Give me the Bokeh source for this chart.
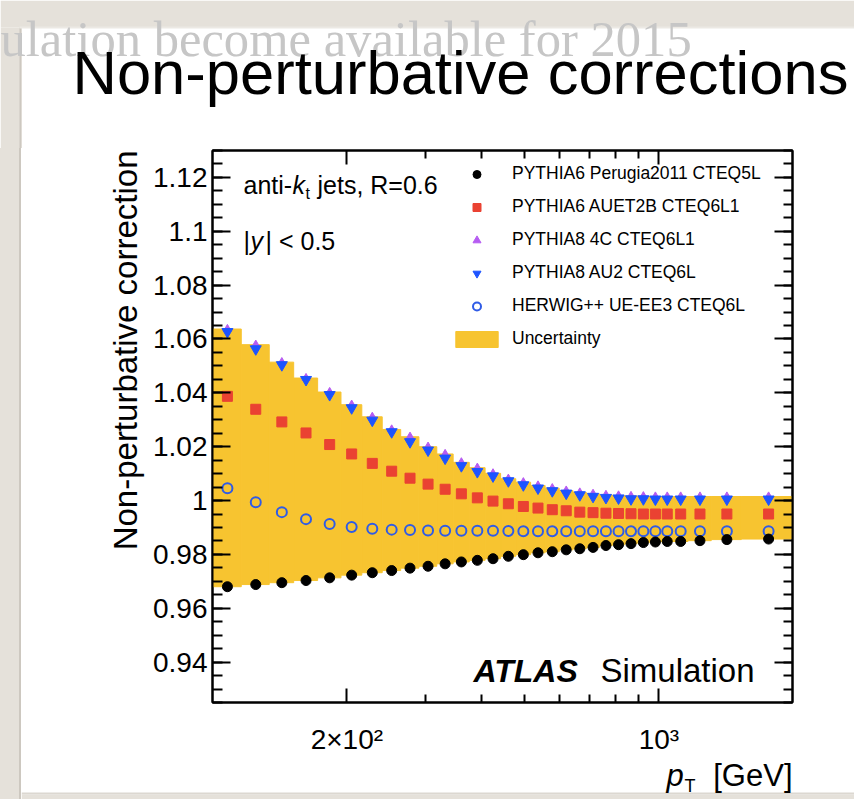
import numpy as np
from bokeh.plotting import figure
from bokeh.layouts import column, row
from bokeh.models import (Range1d, FixedTicker, LogAxis, LinearAxis, Label, Legend,
                          LegendItem, BoxAnnotation, Spacer)
from bokeh.embed import file_html
from bokeh.resources import INLINE

# Jet pT bin edges [GeV]
pt_edges = [100, 116, 134, 152, 172, 194, 216, 240, 264, 290, 318, 346, 376, 408, 442,
            478, 516, 556, 598, 642, 688, 736, 786, 838, 894, 952, 1012, 1076, 1162,
            1310, 1530, 1992]

# Non-perturbative correction per bin, one list per generator/tune
pythia6_perugia2011 = [0.9680, 0.9688, 0.9695, 0.9703, 0.9713, 0.9723, 0.9732, 0.9740,
                       0.9749, 0.9756, 0.9765, 0.9772, 0.9778, 0.9784, 0.9793, 0.9799,
                       0.9806, 0.9810, 0.9817, 0.9821, 0.9826, 0.9833, 0.9836, 0.9840,
                       0.9844, 0.9846, 0.9848, 0.9848, 0.9851, 0.9855, 0.9857]
pythia6_auet2b = [1.0387, 1.0339, 1.0292, 1.0251, 1.0208, 1.0173, 1.0138, 1.0109,
                  1.0083, 1.0061, 1.0042, 1.0025, 1.0010, 0.9998, 0.9988, 0.9978,
                  0.9972, 0.9966, 0.9962, 0.9957, 0.9955, 0.9953, 0.9952, 0.9951,
                  0.9950, 0.9950, 0.9950, 0.9950, 0.9950, 0.9950, 0.9950]
pythia8_4c = [1.0637, 1.0579, 1.0514, 1.0455, 1.0403, 1.0356, 1.0311, 1.0264,
              1.0237, 1.0200, 1.0173, 1.0142, 1.0122, 1.0101, 1.0081, 1.0068,
              1.0056, 1.0046, 1.0037, 1.0030, 1.0025, 1.0021, 1.0019, 1.0017,
              1.0016, 1.0015, 1.0015, 1.0015, 1.0015, 1.0015, 1.0015]
pythia8_au2 = [1.0627, 1.0563, 1.0504, 1.0449, 1.0393, 1.0344, 1.0298, 1.0255,
               1.0218, 1.0187, 1.0157, 1.0129, 1.0107, 1.0091, 1.0073, 1.0058,
               1.0046, 1.0036, 1.0027, 1.0021, 1.0015, 1.0011, 1.0009, 1.0006,
               1.0006, 1.0005, 1.0005, 1.0005, 1.0005, 1.0005, 1.0005]
herwigpp_ueee3 = [1.0046, 0.9994, 0.9957, 0.9931, 0.9913, 0.9902, 0.9895, 0.9892,
                  0.9891, 0.9889, 0.9888, 0.9888, 0.9888, 0.9888, 0.9887, 0.9886,
                  0.9886, 0.9886, 0.9886, 0.9886, 0.9886, 0.9886, 0.9886, 0.9886,
                  0.9886, 0.9886, 0.9886, 0.9886, 0.9886, 0.9886, 0.9886]

# Uncertainty envelope per bin
band_low = pythia6_perugia2011
band_high = pythia8_4c

series_labels = ["PYTHIA6 Perugia2011 CTEQ5L", "PYTHIA6 AUET2B CTEQ6L1",
                 "PYTHIA8 4C CTEQ6L1", "PYTHIA8 AU2 CTEQ6L", "HERWIG++ UE-EE3 CTEQ6L",
                 "Uncertainty"]

y_tick_values = [0.94, 0.96, 0.98, 1.0, 1.02, 1.04, 1.06, 1.08, 1.1, 1.12]
y_tick_labels = ["0.94", "0.96", "0.98", "1", "1.02", "1.04", "1.06", "1.08", "1.1", "1.12"]
x_tick_values = [200, 1000]
x_tick_labels = ["2\u00d710\u00b2", "10\u00b3"]
x_minor_values = [300, 400, 500, 600, 700, 800, 900]

edges = np.array(pt_edges, dtype=float)
centers = 0.5 * (edges[:-1] + edges[1:])
y_minor_values = [round(v, 3) for v in np.arange(0.925, 1.1301, 0.005)]

FONT = "Liberation Sans"
BAND = "#f7c430"
BEIGE = "#e5e1da"
EDGE = "#cdc8c0"
BASE = 0.33   # Label anchors sit this fraction of the font size above the baseline


def blank_panel(width, height):
    """A bare figure whose frame fills the whole canvas (used for page margins)."""
    f = figure(width=width, height=height, x_range=Range1d(0, 1), y_range=Range1d(0, 1),
               x_axis_location=None, y_axis_location=None, title=None,
               output_backend="svg", toolbar_location=None, min_border=0)
    f.min_border_left = f.min_border_right = f.min_border_top = f.min_border_bottom = 0
    f.outline_line_color = None
    f.border_fill_color = "white"
    f.background_fill_color = "white"
    f.grid.visible = False
    return f


def box(fig, left, right, bottom, top, color):
    fig.add_layout(BoxAnnotation(left=left, right=right, bottom=bottom, top=top,
                                 left_units="screen", right_units="screen",
                                 top_units="screen", bottom_units="screen",
                                 fill_color=color, fill_alpha=1.0, line_color=None,
                                 level="underlay"))


def label(fig, x, y, text, size, style="normal", color="black", font=FONT, **kw):
    """Text whose baseline lies y pixels above the frame bottom."""
    fig.add_layout(Label(x=x, y=y + BASE * size, x_units="screen", y_units="screen",
                         text=text, text_font=font, text_font_size=f"{size}px",
                         text_font_style=style, text_color=color,
                         text_baseline="alphabetic", **kw))


# ---- page header: slide edge and headings -------------------------------------
header = blank_panel(854, 148)
box(header, 0, 854, 121, 148, BEIGE)
box(header, 0, 21, 0, 121, BEIGE)
box(header, 19, 21, 0, 121, EDGE)
box(header, 19, 854, 120, 122, "#ece9e4")
label(header, 0, 93, "ulation become available for 2015", 50.6, color="#c6c6c6",
      font="Liberation Serif")
label(header, 72, 56, "Non-perturbative corrections", 61.5)

# ---- slide edge running down the left side ------------------------------------
strip = Spacer(width=21, height=651,
               styles={"background": f"linear-gradient(to right, {BEIGE} 19px, {EDGE} 19px)"})

# ---- left margin with the y-axis title ----------------------------------------
left = blank_panel(126, 609)
left.add_layout(Label(x=104, y=552, x_units="screen", y_units="screen",
                      text="Non-perturbative correction", text_font=FONT,
                      text_font_size="33px", text_color="black", angle=np.pi / 2,
                      text_align="right", text_baseline="alphabetic"))

# ---- main plot ----------------------------------------------------------------
p = figure(width=707, height=609, x_axis_type="log",
           x_range=Range1d(100, 1992), y_range=Range1d(0.925, 1.13),
           output_backend="svg", toolbar_location=None, title=None,
           min_border_left=65, min_border_right=62,
           min_border_top=2, min_border_bottom=53)
p.border_fill_color = "white"
p.background_fill_color = "white"
p.outline_line_color = "black"
p.outline_line_width = 2
p.grid.visible = False

x_ticker = FixedTicker(ticks=x_tick_values, minor_ticks=x_minor_values)
y_ticker = FixedTicker(ticks=y_tick_values, minor_ticks=y_minor_values)


def style_axis(ax, major_in, minor_in):
    ax.axis_line_color = "black"
    ax.axis_line_width = 2
    ax.major_tick_line_width = 2
    ax.minor_tick_line_width = 2
    ax.major_tick_out = 0
    ax.minor_tick_out = 0
    ax.major_tick_in = major_in
    ax.minor_tick_in = minor_in
    ax.major_label_text_font = FONT
    ax.major_label_text_color = "black"
    ax.major_label_text_font_size = "28px"


xb = p.xaxis[0]
xb.ticker = x_ticker
style_axis(xb, 14, 8)
xb.major_label_overrides = dict(zip(x_tick_values, x_tick_labels))
xb.major_label_standoff = 21

yl = p.yaxis[0]
yl.ticker = y_ticker
style_axis(yl, 18, 10)
yl.major_label_overrides = dict(zip(y_tick_values, y_tick_labels))
yl.major_label_standoff = 5

# mirrored tick marks on the top and right edges of the frame
xt = LogAxis(ticker=x_ticker)
style_axis(xt, 14, 8)
xt.major_label_overrides = {v: "" for v in x_tick_values}
xt.major_label_standoff = 0
p.add_layout(xt, "above")

yr = LinearAxis(ticker=y_ticker)
style_axis(yr, 18, 9)
yr.major_label_overrides = {v: "" for v in y_tick_values}
yr.major_label_standoff = 0
p.add_layout(yr, "right")

# uncertainty band and generator points
r_band = p.quad(left=edges[:-1], right=edges[1:], bottom=band_low, top=band_high,
                fill_color=BAND, line_color=BAND, line_width=1)
r_hw = p.scatter(centers, herwigpp_ueee3, marker="circle", size=10, fill_color=None,
                 line_color="#2f5be6", line_width=2)
r_per = p.scatter(centers, pythia6_perugia2011, marker="circle", size=10,
                  fill_color="black", line_color="black")
r_auet = p.scatter(centers, pythia6_auet2b, marker="square", size=10,
                   fill_color="#ea4232", line_color="#ea4232")
r_4c = p.scatter(centers, pythia8_4c, marker="triangle", size=8,
                 fill_color="#b65cf2", line_color="#b65cf2")
r_au2 = p.scatter(centers, pythia8_au2, marker="inverted_triangle", size=11,
                  fill_color="#1d54ff", line_color="#1d54ff")

legend = Legend(items=[LegendItem(label=series_labels[0], renderers=[r_per]),
                       LegendItem(label=series_labels[1], renderers=[r_auet]),
                       LegendItem(label=series_labels[2], renderers=[r_4c]),
                       LegendItem(label=series_labels[3], renderers=[r_au2]),
                       LegendItem(label=series_labels[4], renderers=[r_hw]),
                       LegendItem(label=series_labels[5], renderers=[r_band])],
                location=(238, 353), glyph_width=53, glyph_height=20,
                label_height=20, label_standoff=9, spacing=12, padding=0, margin=0,
                label_text_font=FONT, label_text_font_size="17.5px",
                label_text_color="black", border_line_color=None,
                background_fill_alpha=0)
p.add_layout(legend)

# in-frame annotations
label(p, 31, 509, "anti-", 25)
label(p, 80, 509, "k", 25, style="italic")
label(p, 93, 504, "t", 16)
label(p, 105, 509, "jets, R=0.6", 25)
label(p, 31, 453, "|", 25)
label(p, 38, 453, "y", 25, style="italic")
label(p, 53, 453, "| < 0.5", 25)
label(p, 261, 21, "ATLAS", 32, style="bold italic")
label(p, 388, 21, "Simulation", 33)

# ---- bottom margin with the x-axis title --------------------------------------
bottom = blank_panel(833, 42)
box(bottom, 0, 833, 0, 5, BEIGE)
box(bottom, 0, 833, 5, 7, "#dcd8d1")
label(bottom, 645, 14, "p", 31, style="italic")
label(bottom, 663, 8, "T", 18)
label(bottom, 771, 14, "[GeV]", 31, text_align="right")

body = column(row(left, p, styles={"background": "white"}), bottom,
              styles={"background": "white"})
page = column(header, row(strip, body, styles={"background": BEIGE}),
              styles={"background": "white"})

open("out.html", "w").write(file_html(page, INLINE))
